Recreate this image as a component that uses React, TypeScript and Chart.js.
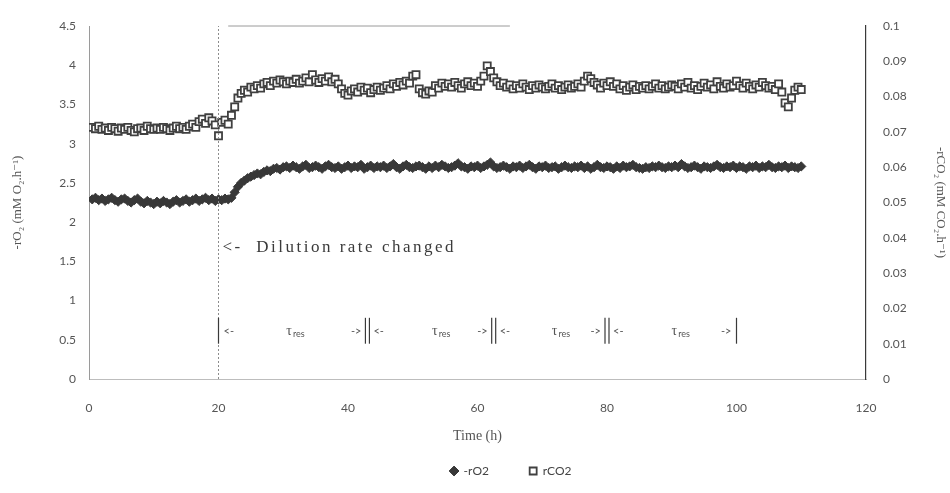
import React, { useEffect, useRef } from 'react';
import { Chart, registerables } from 'chart.js';

Chart.register(...registerables);

// Sampling times (h)
const times = [
  0.5, 1, 1.5, 2, 2.5, 3, 3.5, 4, 4.5, 5,
  5.5, 6, 6.5, 7, 7.5, 8, 8.5, 9, 9.5, 10,
  10.5, 11, 11.5, 12, 12.5, 13, 13.5, 14, 14.5, 15,
  15.5, 16, 16.5, 17, 17.5, 18, 18.5, 19, 19.5, 20,
  20.5, 21, 21.5, 22, 22.5, 23, 23.5, 24, 24.5, 25,
  25.5, 26, 26.5, 27, 27.5, 28, 28.5, 29, 29.5, 30,
  30.5, 31, 31.5, 32, 32.5, 33, 33.5, 34, 34.5, 35,
  35.5, 36, 36.5, 37, 37.5, 38, 38.5, 39, 39.5, 40,
  40.5, 41, 41.5, 42, 42.5, 43, 43.5, 44, 44.5, 45,
  45.5, 46, 46.5, 47, 47.5, 48, 48.5, 49, 49.5, 50,
  50.5, 51, 51.5, 52, 52.5, 53, 53.5, 54, 54.5, 55,
  55.5, 56, 56.5, 57, 57.5, 58, 58.5, 59, 59.5, 60,
  60.5, 61, 61.5, 62, 62.5, 63, 63.5, 64, 64.5, 65,
  65.5, 66, 66.5, 67, 67.5, 68, 68.5, 69, 69.5, 70,
  70.5, 71, 71.5, 72, 72.5, 73, 73.5, 74, 74.5, 75,
  75.5, 76, 76.5, 77, 77.5, 78, 78.5, 79, 79.5, 80,
  80.5, 81, 81.5, 82, 82.5, 83, 83.5, 84, 84.5, 85,
  85.5, 86, 86.5, 87, 87.5, 88, 88.5, 89, 89.5, 90,
  90.5, 91, 91.5, 92, 92.5, 93, 93.5, 94, 94.5, 95,
  95.5, 96, 96.5, 97, 97.5, 98, 98.5, 99, 99.5, 100,
  100.5, 101, 101.5, 102, 102.5, 103, 103.5, 104, 104.5, 105,
  105.5, 106, 106.5, 107, 107.5, 108, 108.5, 109, 109.5, 110,
];

// -rO2 (mM O2/h), left axis
const rO2 = [
  2.29, 2.31, 2.28, 2.30, 2.27, 2.29, 2.31, 2.28, 2.26, 2.29,
  2.30, 2.27, 2.25, 2.28, 2.30, 2.26, 2.24, 2.27, 2.25, 2.23,
  2.26, 2.24, 2.27, 2.25, 2.23, 2.26, 2.28, 2.25, 2.27, 2.29,
  2.26, 2.28, 2.30, 2.27, 2.29, 2.31, 2.28, 2.30, 2.27, 2.29,
  2.28, 2.30, 2.29, 2.31, 2.38, 2.45, 2.50, 2.53, 2.56, 2.58,
  2.60, 2.62, 2.61, 2.64, 2.66, 2.65, 2.68, 2.69, 2.67, 2.70,
  2.71, 2.69, 2.72, 2.70, 2.68, 2.71, 2.73, 2.69, 2.70, 2.72,
  2.70, 2.68, 2.71, 2.73, 2.70, 2.69, 2.71, 2.68, 2.70, 2.72,
  2.69, 2.71, 2.70, 2.73, 2.68, 2.70, 2.72, 2.69, 2.71, 2.70,
  2.72, 2.69, 2.71, 2.74, 2.70, 2.68, 2.71, 2.73, 2.70, 2.69,
  2.71, 2.72, 2.70, 2.68, 2.71, 2.69, 2.72, 2.70, 2.73, 2.71,
  2.69, 2.70, 2.72, 2.75, 2.71, 2.70, 2.68, 2.71, 2.70, 2.72,
  2.69, 2.71, 2.73, 2.76, 2.71, 2.69, 2.70, 2.72, 2.70, 2.68,
  2.71, 2.70, 2.72, 2.69, 2.71, 2.73, 2.70, 2.68, 2.71, 2.70,
  2.72, 2.69, 2.70, 2.71, 2.68, 2.70, 2.72, 2.70, 2.69, 2.71,
  2.70, 2.72, 2.69, 2.71, 2.68, 2.70, 2.73, 2.70, 2.69, 2.71,
  2.70, 2.68, 2.71, 2.69, 2.72, 2.70, 2.71, 2.73, 2.70, 2.69,
  2.68, 2.70, 2.69, 2.71, 2.70, 2.72, 2.70, 2.69, 2.71, 2.70,
  2.72, 2.70, 2.74, 2.71, 2.69, 2.70, 2.72, 2.70, 2.68, 2.71,
  2.70, 2.69, 2.71, 2.73, 2.70, 2.69, 2.71, 2.70, 2.72, 2.69,
  2.71, 2.70, 2.68, 2.71, 2.70, 2.72, 2.69, 2.71, 2.70, 2.73,
  2.70, 2.69, 2.71, 2.70, 2.72, 2.69, 2.71, 2.70, 2.69, 2.71,
];

// rCO2 (mM CO2/h), right axis
const rCO2 = [
  0.0713, 0.0709, 0.0716, 0.0707, 0.0711, 0.0704, 0.0713, 0.0709, 0.0702, 0.0711,
  0.0707, 0.0713, 0.0704, 0.0700, 0.0709, 0.0711, 0.0704, 0.0716, 0.0709, 0.0707,
  0.0711, 0.0707, 0.0713, 0.0709, 0.0704, 0.0711, 0.0716, 0.0709, 0.0713, 0.0707,
  0.0716, 0.0722, 0.0713, 0.0729, 0.0736, 0.0724, 0.0740, 0.0731, 0.0720, 0.0689,
  0.0727, 0.0733, 0.0722, 0.0747, 0.0771, 0.0796, 0.0809, 0.0818, 0.0813, 0.0827,
  0.0822, 0.0831, 0.0824, 0.0836, 0.0840, 0.0831, 0.0844, 0.0838, 0.0847, 0.0842,
  0.0836, 0.0844, 0.0840, 0.0849, 0.0838, 0.0844, 0.0853, 0.0842, 0.0862, 0.0847,
  0.0840, 0.0851, 0.0844, 0.0856, 0.0842, 0.0849, 0.0836, 0.0822, 0.0809, 0.0804,
  0.0816, 0.0822, 0.0813, 0.0827, 0.0818, 0.0824, 0.0811, 0.0820, 0.0827, 0.0818,
  0.0824, 0.0831, 0.0822, 0.0836, 0.0829, 0.0840, 0.0833, 0.0844, 0.0838, 0.0858,
  0.0862, 0.0822, 0.0811, 0.0807, 0.0816, 0.0813, 0.0831, 0.0824, 0.0838, 0.0829,
  0.0836, 0.0827, 0.0840, 0.0831, 0.0824, 0.0836, 0.0842, 0.0831, 0.0838, 0.0829,
  0.0844, 0.0858, 0.0887, 0.0871, 0.0853, 0.0842, 0.0831, 0.0838, 0.0827, 0.0833,
  0.0822, 0.0831, 0.0824, 0.0836, 0.0827, 0.0820, 0.0831, 0.0824, 0.0833, 0.0827,
  0.0822, 0.0829, 0.0836, 0.0824, 0.0831, 0.0820, 0.0827, 0.0833, 0.0824, 0.0829,
  0.0836, 0.0827, 0.0844, 0.0858, 0.0851, 0.0840, 0.0833, 0.0824, 0.0838, 0.0831,
  0.0842, 0.0829, 0.0836, 0.0822, 0.0831, 0.0818, 0.0827, 0.0833, 0.0820, 0.0829,
  0.0824, 0.0831, 0.0822, 0.0829, 0.0836, 0.0824, 0.0831, 0.0822, 0.0827, 0.0833,
  0.0829, 0.0822, 0.0836, 0.0827, 0.0840, 0.0824, 0.0831, 0.0820, 0.0829, 0.0838,
  0.0827, 0.0833, 0.0822, 0.0842, 0.0829, 0.0824, 0.0836, 0.0827, 0.0831, 0.0844,
  0.0831, 0.0824, 0.0838, 0.0829, 0.0822, 0.0833, 0.0827, 0.0840, 0.0831, 0.0824,
  0.0829, 0.0820, 0.0836, 0.0813, 0.0782, 0.0771, 0.0796, 0.0818, 0.0827, 0.0820,
];

const seriesLabels = ['-rO2', 'rCO2'];
const xTicks = [0, 20, 40, 60, 80, 100, 120];
const leftTicks = [0, 0.5, 1, 1.5, 2, 2.5, 3, 3.5, 4, 4.5];
const rightTicks = [0, 0.01, 0.02, 0.03, 0.04, 0.05, 0.06, 0.07, 0.08, 0.09, 0.1];

// Annotations (data units)
const changeTime = 20;
const changeText = '<-  Dilution rate changed';
const changeTextY = 1.68;
const topLineX = [21.5, 65];
const tauBounds = [20, 43, 62.5, 80, 100];
const tauCenters = [31.5, 54, 72.5, 91];
const tauY = 0.61;
const tauBarRange = [0.45, 0.78];

const TICK_FONT = 'Lato, "Noto Sans", sans-serif';
const SERIF_FONT = '"Liberation Serif", "DejaVu Serif", serif';

const annotationPlugin = {
  id: 'annotations',
  afterDatasetsDraw(chart: any) {
    const { ctx } = chart;
    const x = chart.scales.x;
    const y = chart.scales.y;
    ctx.save();

    // dotted vertical line at the change
    const cx = x.getPixelForValue(changeTime);
    ctx.strokeStyle = '#8c8c8c';
    ctx.lineWidth = 1;
    ctx.setLineDash([2, 2]);
    ctx.beginPath();
    ctx.moveTo(cx, y.getPixelForValue(0));
    ctx.lineTo(cx, y.getPixelForValue(4.5));
    ctx.stroke();
    ctx.setLineDash([]);

    // top partial line
    ctx.strokeStyle = '#9a9a9a';
    ctx.beginPath();
    ctx.moveTo(x.getPixelForValue(topLineX[0]), y.getPixelForValue(4.5));
    ctx.lineTo(x.getPixelForValue(topLineX[1]), y.getPixelForValue(4.5));
    ctx.stroke();

    // dilution text
    ctx.fillStyle = '#3a3a3a';
    ctx.font = '17px ' + SERIF_FONT;
    (ctx as any).letterSpacing = '2.5px';
    ctx.textAlign = 'left';
    ctx.textBaseline = 'middle';
    ctx.fillText(changeText, cx + 4, y.getPixelForValue(changeTextY));
    (ctx as any).letterSpacing = '0px';

    // tau_res bars
    const ty = y.getPixelForValue(tauY);
    ctx.strokeStyle = '#3a3a3a';
    ctx.lineWidth = 1.2;
    tauBounds.forEach((b, i) => {
      const bx = x.getPixelForValue(b);
      const offs = i === 0 || i === tauBounds.length - 1 ? [0] : [-2, 2];
      offs.forEach((o) => {
        ctx.beginPath();
        ctx.moveTo(bx + o, y.getPixelForValue(tauBarRange[0]));
        ctx.lineTo(bx + o, y.getPixelForValue(tauBarRange[1]));
        ctx.stroke();
      });
    });
    ctx.fillStyle = '#555';
    ctx.font = '11px ' + TICK_FONT;
    for (let i = 0; i < tauBounds.length - 1; i++) {
      const a = x.getPixelForValue(tauBounds[i]);
      const b = x.getPixelForValue(tauBounds[i + 1]);
      ctx.textAlign = 'left';
      ctx.fillText('<-', a + (i === 0 ? 5 : 6), ty);
      ctx.textAlign = 'right';
      ctx.fillText('->', b - (i === tauBounds.length - 2 ? 5 : 6), ty);
      const mx = x.getPixelForValue(tauCenters[i]);
      ctx.font = '14px ' + SERIF_FONT;
      ctx.textAlign = 'right';
      ctx.fillText('\u03C4', mx - 1, ty);
      ctx.font = '9px ' + TICK_FONT;
      ctx.textAlign = 'left';
      ctx.fillText('res', mx, ty + 3);
      ctx.font = '11px ' + TICK_FONT;
    }
    ctx.restore();
  },
};

const legendShiftPlugin = {
  id: 'legendShift',
  afterLayout(chart: any) {
    const l = chart.legend;
    if (l) {
      l.left += 36;
      l.right += 36;
    }
  },
};

export default function App() {
  const canvasRef = useRef<HTMLCanvasElement | null>(null);

  useEffect(() => {
    if (!canvasRef.current) return;
    const chart = new Chart(canvasRef.current, {
      type: 'scatter',
      data: {
        datasets: [
          {
            label: seriesLabels[0],
            data: times.map((t, i) => ({ x: t, y: rO2[i] })),
            yAxisID: 'y',
            pointStyle: 'rectRot',
            pointRadius: 4.6,
            backgroundColor: '#383838',
            borderColor: '#383838',
            borderWidth: 1,
            showLine: false,
          },
          {
            label: seriesLabels[1],
            data: times.map((t, i) => ({ x: t, y: rCO2[i] })),
            yAxisID: 'y1',
            pointStyle: 'rect',
            pointRadius: 5,
            backgroundColor: '#ffffff',
            borderColor: '#404040',
            borderWidth: 1.8,
            showLine: false,
          },
        ],
      },
      options: {
        animation: false,
        responsive: true,
        maintainAspectRatio: false,
        events: [],
        layout: { padding: { top: 26, bottom: 6, left: 0, right: 0 } },
        plugins: {
          tooltip: { enabled: false },
          legend: {
            display: true,
            position: 'bottom',
            labels: {
              usePointStyle: true,
              boxWidth: 7,
              boxHeight: 7,
              padding: 10,
              color: '#444',
              font: { family: TICK_FONT, size: 12 },
              generateLabels: (ch: any) => {
                const items = Chart.defaults.plugins.legend.labels.generateLabels(ch);
                items[0].text = items[0].text + '          ';
                return items;
              },
            },
          },
        },
        scales: {
          x: {
            type: 'linear',
            min: 0,
            max: 120,
            afterBuildTicks: (s: any) => {
              s.ticks = xTicks.map((v) => ({ value: v }));
            },
            afterFit: (s: any) => {
              s.height = 76;
            },
            grid: { display: false, drawTicks: false },
            border: { display: true, color: '#bdbdbd', width: 1 },
            ticks: {
              padding: 22,
              color: '#555',
              font: { family: TICK_FONT, size: 12 },
              callback: (v: any) => String(v),
            },
            title: {
              display: true,
              text: 'Time (h)',
              color: '#555',
              font: { family: SERIF_FONT, size: 14 },
              padding: { top: 0, bottom: 10 },
            },
          },
          y: {
            type: 'linear',
            position: 'left',
            min: 0,
            max: 4.5,
            afterBuildTicks: (s: any) => {
              s.ticks = leftTicks.map((v) => ({ value: v }));
            },
            afterFit: (s: any) => {
              s.width = 89;
            },
            grid: { display: false, drawTicks: false },
            border: { display: true, color: '#9a9a9a', width: 1 },
            ticks: {
              padding: 13,
              color: '#555',
              font: { family: TICK_FONT, size: 12 },
              callback: (v: any) => String(v),
            },
            title: {
              display: true,
              text: '-rO\u2082 (mM O\u2082.h\u207B\u00B9)',
              color: '#555',
              font: { family: SERIF_FONT, size: 13 },
              padding: { top: 10, bottom: 0 },
            },
          },
          y1: {
            type: 'linear',
            position: 'right',
            min: 0,
            max: 0.1,
            afterBuildTicks: (s: any) => {
              s.ticks = rightTicks.map((v) => ({ value: v }));
            },
            afterFit: (s: any) => {
              s.width = 84;
            },
            grid: { display: false, drawTicks: false },
            border: { display: true, color: '#3a3a3a', width: 1.2 },
            ticks: {
              padding: 17,
              color: '#555',
              font: { family: TICK_FONT, size: 12 },
              callback: (v: any) => String(v),
            },
            title: {
              display: true,
              text: '-rCO\u2082 (mM CO\u2082.h\u207B\u00B9)',
              color: '#555',
              font: { family: SERIF_FONT, size: 13 },
              padding: { top: 2, bottom: 0 },
            },
          },
        },
      },
      plugins: [annotationPlugin, legendShiftPlugin],
    } as any);
    return () => chart.destroy();
  }, []);

  return (
    <div style={{ position: 'absolute', left: 0, top: 0, width: 950, height: 493, background: '#fff' }}>
      <canvas ref={canvasRef} />
    </div>
  );
}
